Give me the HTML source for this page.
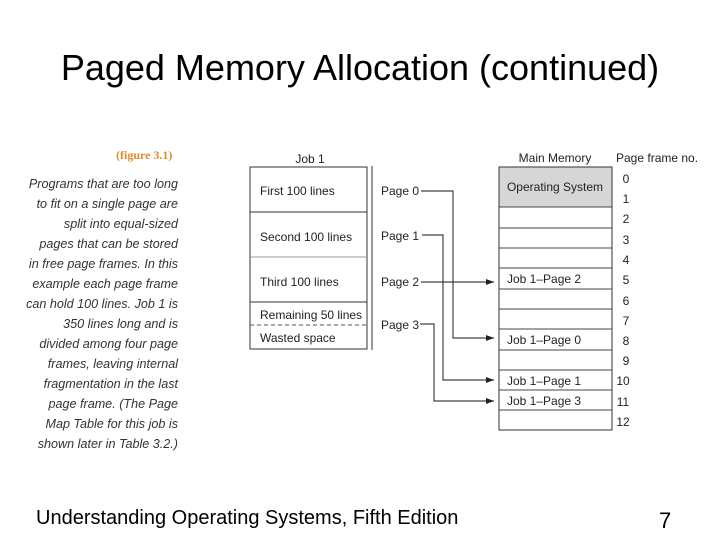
<!DOCTYPE html>
<html><head><meta charset="utf-8"><style>
html,body{margin:0;padding:0;background:#fff;}
body{width:720px;height:540px;position:relative;overflow:hidden;font-family:"Liberation Sans",sans-serif;}
.t{position:absolute;white-space:nowrap;}
</style></head><body>
<div class="t" style="left:0;width:720px;text-align:center;top:47px;font-size:36px;color:#000;">Paged Memory Allocation (continued)</div>
<div class="t" style="left:116px;top:148px;font-size:12px;color:#e08a2a;font-weight:bold;font-family:'Liberation Serif',serif;">(figure 3.1)</div>
<div class="t" style="right:542px;top:174px;font-size:12.6px;line-height:20px;color:#333;font-style:italic;text-align:right;">Programs that are too long<br>to fit on a single page are<br>split into equal-sized<br>pages that can be stored<br>in free page frames. In this<br>example each page frame<br>can hold 100 lines. Job 1 is<br>350 lines long and is<br>divided among four page<br>frames, leaving internal<br>fragmentation in the last<br>page frame. (The Page<br>Map Table for this job is<br>shown later in Table 3.2.)</div>
<svg width="720" height="540" style="position:absolute;left:0;top:0" font-family="Liberation Sans, sans-serif" font-size="12" fill="#222">
<defs><marker id="a" markerWidth="8" markerHeight="6" refX="8" refY="3" orient="auto" markerUnits="userSpaceOnUse"><path d="M0,0L8,3L0,6z" fill="#222"/></marker></defs>
<text x="310" y="163" text-anchor="middle">Job 1</text>
<rect x="250" y="167" width="117" height="182" fill="none" stroke="#333"/>
<line x1="250" y1="212" x2="367" y2="212" stroke="#333"/>
<line x1="250" y1="257" x2="367" y2="257" stroke="#999"/>
<line x1="250" y1="302" x2="367" y2="302" stroke="#333"/>
<line x1="250" y1="325" x2="367" y2="325" stroke="#555" stroke-dasharray="4,3"/>
<text x="260" y="195">First 100 lines</text>
<text x="260" y="241">Second 100 lines</text>
<text x="260" y="286">Third 100 lines</text>
<text x="260" y="319">Remaining 50 lines</text>
<text x="260" y="342">Wasted space</text>
<line x1="372" y1="166" x2="372" y2="350" stroke="#333"/>
<text x="381" y="195">Page 0</text>
<text x="381" y="240">Page 1</text>
<text x="381" y="286">Page 2</text>
<text x="381" y="329">Page 3</text>
<g stroke="#444" fill="none" stroke-width="1.2">
<polyline points="421,191 453,191 453,338 494,338" marker-end="url(#a)"/>
<polyline points="422,235 443,235 443,380 494,380" marker-end="url(#a)"/>
<polyline points="421,282 494,282" marker-end="url(#a)"/>
<polyline points="420,324 434,324 434,401 494,401" marker-end="url(#a)"/>
</g>
<text x="555" y="162" text-anchor="middle">Main Memory</text>
<text x="616" y="162">Page frame no.</text>
<rect x="499" y="167" width="113" height="40" fill="#d6d6d6"/>
<rect x="499" y="167" width="113" height="263" fill="none" stroke="#333"/>
<g stroke="#444">
<line x1="499" y1="207" x2="612" y2="207"/><line x1="499" y1="228" x2="612" y2="228"/>
<line x1="499" y1="248" x2="612" y2="248"/><line x1="499" y1="268" x2="612" y2="268"/>
<line x1="499" y1="289" x2="612" y2="289"/><line x1="499" y1="309" x2="612" y2="309"/>
<line x1="499" y1="329" x2="612" y2="329"/><line x1="499" y1="350" x2="612" y2="350"/>
<line x1="499" y1="370" x2="612" y2="370"/><line x1="499" y1="390" x2="612" y2="390"/>
<line x1="499" y1="410" x2="612" y2="410"/>
</g>
<text x="555" y="191" text-anchor="middle">Operating System</text>
<text x="507" y="283">Job 1–Page 2</text>
<text x="507" y="344">Job 1–Page 0</text>
<text x="507" y="385">Job 1–Page 1</text>
<text x="507" y="405">Job 1–Page 3</text>
<g text-anchor="middle">
<text x="626" y="183">0</text><text x="626" y="203">1</text><text x="626" y="223">2</text>
<text x="626" y="244">3</text><text x="626" y="264">4</text><text x="626" y="284">5</text>
<text x="626" y="305">6</text><text x="626" y="325">7</text><text x="626" y="345">8</text>
<text x="626" y="365">9</text><text x="623" y="385">10</text><text x="623" y="406">11</text>
<text x="623" y="426">12</text>
</g>
</svg>
<div class="t" style="left:36px;top:507px;font-size:20px;">Understanding Operating Systems, Fifth Edition</div>
<div class="t" style="left:659px;top:508px;font-size:22px;">7</div>
</body></html>
